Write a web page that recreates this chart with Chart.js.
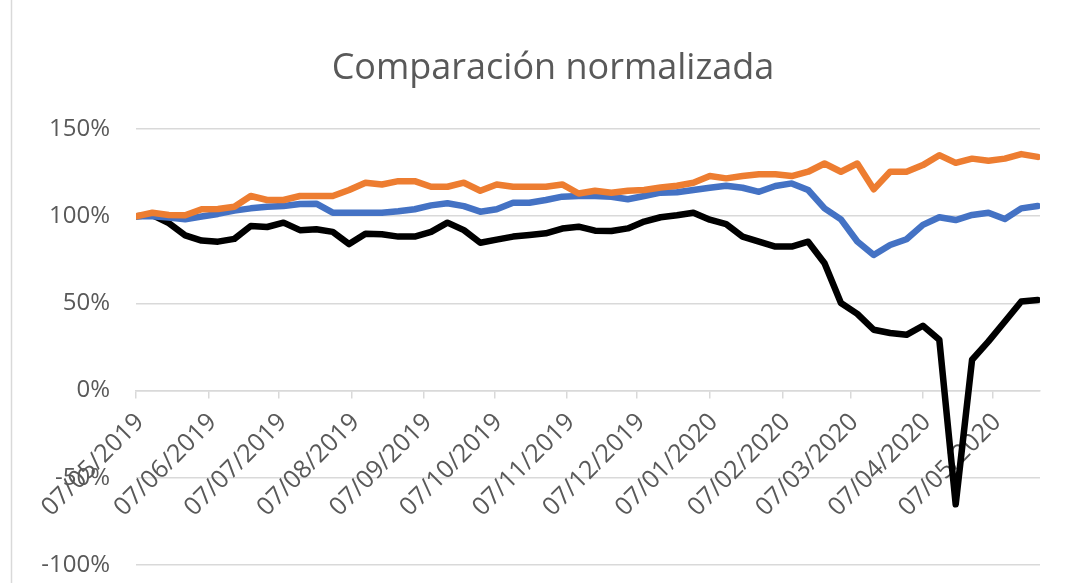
<!DOCTYPE html>
<html>
<head>
<meta charset="utf-8">
<script src="https://cdn.jsdelivr.net/npm/chart.js@4.4.1/dist/chart.umd.min.js"></script>
<style>
  html, body { margin: 0; padding: 0; background: #ffffff; }
  #wrap { position: relative; width: 1082px; height: 583px; }
</style>
</head>
<body>
<div id="wrap"><canvas id="c" width="1082" height="583"></canvas></div>
<script>
// ---- data ----
const weekDates = [
  '2019-05-07','2019-05-14','2019-05-21','2019-05-28','2019-06-04','2019-06-11','2019-06-18','2019-06-25',
  '2019-07-02','2019-07-09','2019-07-16','2019-07-23','2019-07-30','2019-08-06','2019-08-13','2019-08-20',
  '2019-08-27','2019-09-03','2019-09-10','2019-09-17','2019-09-24','2019-10-01','2019-10-08','2019-10-15',
  '2019-10-22','2019-10-29','2019-11-05','2019-11-12','2019-11-19','2019-11-26','2019-12-03','2019-12-10',
  '2019-12-17','2019-12-24','2019-12-31','2020-01-07','2020-01-14','2020-01-21','2020-01-28','2020-02-04',
  '2020-02-11','2020-02-18','2020-02-25','2020-03-03','2020-03-10','2020-03-17','2020-03-24','2020-03-31',
  '2020-04-07','2020-04-14','2020-04-21','2020-04-28','2020-05-05','2020-05-12','2020-05-19','2020-05-26'
];
const seriesOrange = [100, 102, 100.7, 100.5, 104, 104.1, 105.4, 111.6, 109.3, 109.3, 111.6, 111.6, 111.6, 115, 119.2, 118.2,
  120.1, 120.1, 116.9, 116.9, 119.2, 114.6, 118.2, 116.9, 116.9, 116.9, 118.2, 113, 114.6, 113.5, 114.6, 115,
  116.5, 117.5, 119.2, 123, 121.7, 123, 124, 124, 123, 125.5, 130.2, 125.5, 130.2, 115.4,
  125.5, 125.5, 129.3, 135, 130.6, 133, 131.8, 133, 135.6, 134];
const seriesBlue = [100, 100, 99.3, 98.2, 99.8, 101.3, 103.2, 104.5, 105.4, 105.8, 107, 107.2, 102, 102, 102, 102,
  102.8, 104, 106.2, 107.4, 105.8, 102.6, 104, 107.7, 107.7, 109.3, 111.2, 111.6, 111.6, 111.2, 109.7, 111.6,
  113.5, 113.7, 115, 116.3, 117.5, 116.3, 114, 117.3, 118.8, 115, 104.5, 98.2, 85.5, 77.8,
  83.5, 86.8, 95, 99.4, 97.8, 100.7, 102, 98.4, 104.5, 105.8];
const seriesBlack = [100, 100.7, 96, 89, 86, 85.4, 87, 94.4, 93.8, 96.3, 92, 92.5, 91, 84, 90, 89.6,
  88.3, 88.3, 91, 96.3, 92, 84.8, 86.6, 88.3, 89.2, 90.2, 92.9, 94, 91.7, 91.5, 93, 96.9,
  99.4, 100.5, 102, 98, 95.5, 88.3, 85.4, 82.6, 82.6, 85.4, 73, 50.2, 44, 34.9,
  33, 32, 37.2, 29.2, -65.2, 17.7, 28.2, 39.6, 51.1, 52];
const tickLabels = ['07/05/2019','07/06/2019','07/07/2019','07/08/2019','07/09/2019','07/10/2019','07/11/2019',
  '07/12/2019','07/01/2020','07/02/2020','07/03/2020','07/04/2020','07/05/2020'];
const yTicks = [-100, -50, 0, 50, 100, 150];
const title = 'Comparación normalizada';

// ---- helpers ----
const DAY = 86400000;
const t0 = Date.parse(weekDates[0] + 'T00:00:00Z');
function isoOffset(s) { return (Date.parse(s + 'T00:00:00Z') - t0) / DAY; }
function dmyOffset(s) { const [d, m, y] = s.split('/'); return isoOffset(y + '-' + m + '-' + d); }
const xs = weekDates.map(isoOffset);
const tickOffsets = tickLabels.map(dmyOffset);
const pts = arr => arr.map((v, i) => ({ x: xs[i], y: v }));

const gray = '#595959';
const gridC = '#d9d9d9';
const fontFam = "'Open Sans', 'Liberation Sans', sans-serif";

const decorPlugin = {
  id: 'decor',
  beforeDraw(chart) {
    const ctx = chart.ctx;
    ctx.save();
    ctx.strokeStyle = gridC;
    ctx.lineWidth = 1.5;
    ctx.beginPath();
    ctx.moveTo(11.5, 0);
    ctx.lineTo(11.5, chart.height);
    ctx.stroke();
    ctx.restore();
  },
  afterDraw(chart) {
    const ctx = chart.ctx;
    ctx.save();
    ctx.fillStyle = gray;
    ctx.font = "36px " + fontFam;
    ctx.textAlign = 'center';
    ctx.textBaseline = 'middle';
    ctx.fillText(title, 553, 69);
    ctx.restore();
  }
};

const lineDs = (label, data, color) => ({
  label, data: pts(data), borderColor: color, backgroundColor: color,
  borderWidth: 6.5, pointRadius: 0, tension: 0, fill: false,
  borderJoinStyle: 'round', borderCapStyle: 'round'
});

function zeroPad(scale) {
  scale.paddingTop = 0; scale.paddingBottom = 0; scale.paddingLeft = 0; scale.paddingRight = 0;
}

new Chart(document.getElementById('c'), {
  type: 'line',
  data: {
    datasets: [
      lineDs('Serie naranja', seriesOrange, '#ED7D31'),
      lineDs('Serie azul', seriesBlue, '#4472C4'),
      lineDs('Serie negra', seriesBlack, '#000000')
    ]
  },
  plugins: [decorPlugin],
  options: {
    responsive: false,
    animation: false,
    layout: { padding: { left: 0, right: 42, top: 129, bottom: 18 } },
    plugins: {
      legend: { display: false },
      tooltip: { enabled: false },
      title: { display: false }
    },
    scales: {
      x: {
        type: 'linear',
        position: { y: 0 },
        min: 0,
        max: xs[xs.length - 1] + 1,
        afterBuildTicks(scale) { scale.ticks = tickOffsets.map(v => ({ value: v })); },
        afterFit(scale) { scale.height = 0; zeroPad(scale); },
        ticks: {
          autoSkip: false, maxRotation: 45, minRotation: 45,
          color: gray, font: { family: fontFam, size: 25 }, padding: 10, labelOffset: 4,
          callback: (v, i) => tickLabels[i]
        },
        grid: { drawOnChartArea: false, drawTicks: true, tickLength: 7, color: gridC, lineWidth: 1.5 },
        border: { display: true, color: gridC, width: 1.5 }
      },
      y: {
        min: yTicks[0], max: yTicks[yTicks.length - 1],
        afterBuildTicks(scale) { scale.ticks = yTicks.map(v => ({ value: v })); },
        afterFit(scale) { scale.width = 136; zeroPad(scale); },
        ticks: {
          color: gray, font: { family: fontFam, size: 24 }, padding: 26,
          callback: v => v + '%'
        },
        grid: { drawTicks: false, color: gridC, lineWidth: 1.5 },
        border: { display: false }
      }
    }
  }
});
</script>
</body>
</html>
